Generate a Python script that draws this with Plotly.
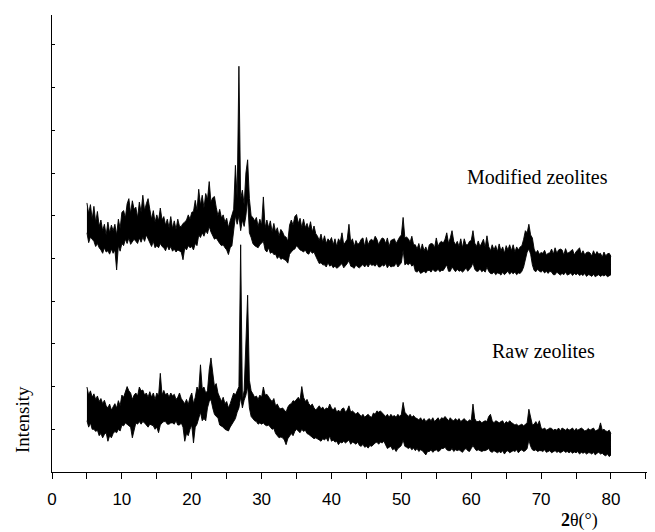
import plotly.graph_objects as go

# 2-theta sampling (degrees) from 5 to 80, step 0.25
two_theta = [5 + 0.25 * i for i in range(301)]

# The noisy traces are drawn as the band between the top and bottom edges
# of the recorded signal, read from the picture (intensity, a.u.)
modified_top = [
    630, 605, 626, 592,
    622, 585, 610, 575,
    590, 565, 580, 555,
    585, 560, 578, 565,
    580, 555, 592, 570,
    608, 612, 595, 628,
    640, 605, 635, 615,
    620, 595, 632, 608,
    648, 612, 628, 640,
    615, 592, 612, 585,
    602, 588, 618, 590,
    598, 578, 592, 572,
    598, 570, 588, 568,
    592, 575, 575, 582,
    585, 590, 602, 592,
    608, 610, 636, 612,
    662, 625, 648, 618,
    652, 638, 680, 632,
    642, 645, 620, 600,
    615, 595, 602, 585,
    594, 572, 588, 600,
    615, 718, 640, 950,
    640, 660, 625, 700,
    731, 640, 600, 596,
    588, 596, 575, 592,
    578, 644, 572, 590,
    572, 588, 562, 582,
    562, 572, 552, 568,
    562, 552, 550, 540,
    578, 590, 578, 598,
    603, 582, 594, 572,
    592, 572, 582, 568,
    586, 562, 576, 558,
    552, 542, 557, 538,
    553, 535, 546, 540,
    549, 532, 546, 528,
    546, 538, 560, 532,
    540, 545, 580, 538,
    546, 528, 542, 533,
    536, 545, 548, 528,
    549, 532, 542, 545,
    540, 552, 545, 532,
    542, 548, 546, 535,
    548, 528, 542, 545,
    546, 535, 544, 550,
    555, 596, 548, 550,
    546, 538, 552, 532,
    532, 522, 535, 518,
    534, 518, 527, 515,
    532, 535, 534, 525,
    548, 528, 537, 540,
    536, 545, 560, 535,
    548, 565, 540, 532,
    540, 528, 546, 525,
    546, 532, 532, 540,
    542, 565, 536, 528,
    541, 528, 536, 545,
    526, 553, 528, 518,
    532, 520, 530, 516,
    534, 518, 527, 512,
    530, 520, 532, 518,
    532, 515, 527, 520,
    527, 530, 545, 565,
    560, 580, 555, 548,
    522, 512, 519, 510,
    514, 512, 519, 508,
    512, 513, 522, 510,
    525, 512, 520, 522,
    520, 508, 523, 512,
    514, 518, 521, 508,
    516, 520, 525, 510,
    518, 508, 514, 515,
    513, 506, 518, 508,
    516, 510, 512, 503,
    515, 506, 511, 512,
    505,
]

modified_bottom = [
    560, 537, 550, 545,
    540, 528, 535, 525,
    520, 512, 525, 515,
    518, 510, 522, 512,
    520, 473, 530, 517,
    535, 530, 545, 535,
    548, 533, 540, 545,
    540, 535, 548, 538,
    550, 540, 555, 545,
    538, 528, 540, 525,
    530, 525, 535, 528,
    525, 518, 530, 520,
    528, 517, 522, 515,
    520, 518, 515, 497,
    525, 520, 530, 525,
    528, 520, 535, 530,
    555, 549, 560, 552,
    565, 558, 575, 562,
    552, 545, 548, 540,
    535, 530, 532, 525,
    520, 509, 525, 530,
    560, 600, 580, 600,
    565, 590, 575, 600,
    640, 560, 549, 535,
    530, 528, 525, 532,
    535, 540, 520, 515,
    525, 512, 515, 509,
    510, 500, 505, 498,
    500, 498, 495, 489,
    510, 515, 520, 522,
    530, 525, 520, 518,
    515, 520, 512, 510,
    518, 512, 515, 505,
    495, 488, 490, 485,
    485, 480, 490, 482,
    485, 478, 482, 477,
    480, 485, 488, 478,
    482, 488, 495, 482,
    480, 477, 485, 480,
    478, 482, 486, 480,
    486, 480, 488, 484,
    485, 482, 488, 480,
    480, 485, 482, 488,
    478, 485, 480, 482,
    482, 490, 480, 485,
    490, 520, 485, 488,
    485, 490, 482, 486,
    470, 468, 472, 465,
    468, 470, 466, 472,
    472, 468, 475, 470,
    470, 475, 469, 472,
    472, 478, 485, 470,
    470, 480, 475, 469,
    475, 470, 472, 468,
    472, 478, 470, 475,
    480, 490, 475, 470,
    470, 476, 469, 472,
    468, 480, 470, 465,
    464, 468, 462, 466,
    465, 461, 468, 462,
    466, 470, 463, 468,
    464, 468, 462, 466,
    465, 470, 480, 500,
    515, 522, 510, 485,
    472, 469, 475, 470,
    468, 472, 466, 470,
    465, 470, 468, 462,
    462, 468, 465, 461,
    465, 462, 468, 461,
    463, 466, 460, 465,
    462, 465, 460, 463,
    460, 465, 458, 462,
    461, 458, 463, 457,
    460, 462, 458, 461,
    459, 462, 457, 460,
    462,
]

raw_top = [
    199, 180, 190, 175,
    183, 170, 178, 165,
    172, 160, 168, 155,
    150, 159, 145, 152,
    160, 150, 167, 155,
    180, 175, 190, 200,
    190, 185, 170, 180,
    185, 178, 199, 190,
    192, 180, 185, 175,
    188, 175, 185, 170,
    185, 178, 231, 180,
    191, 180, 185, 175,
    185, 178, 182, 170,
    175, 185, 172, 165,
    160, 170, 158, 175,
    185, 160, 175, 199,
    190, 251, 195, 199,
    185, 190, 239, 267,
    230, 200, 207, 185,
    175, 165, 175, 160,
    165, 150, 160, 175,
    185, 180, 191, 200,
    532, 168, 191, 310,
    414, 215, 190, 183,
    175, 178, 170, 180,
    175, 199, 180, 182,
    175, 170, 165, 172,
    155, 159, 150, 148,
    150, 145, 140, 152,
    158, 160, 167, 165,
    170, 175, 168, 200,
    175, 165, 170, 160,
    155, 159, 150, 145,
    150, 155, 148, 152,
    145, 150, 148, 159,
    150, 145, 151, 140,
    145, 140, 148, 150,
    140, 145, 155, 140,
    143, 138, 135, 140,
    135, 130, 135, 128,
    132, 135, 130, 128,
    138, 135, 143, 140,
    143, 138, 135, 130,
    135, 128, 135, 130,
    132, 128, 135, 130,
    135, 163, 140, 135,
    130, 135, 128, 132,
    127, 125, 122, 127,
    120, 125, 118, 122,
    125, 120, 127, 118,
    122, 127, 120, 127,
    125, 130, 125, 120,
    127, 122, 120, 125,
    120, 125, 118, 122,
    125, 120, 118, 122,
    120, 159, 125, 118,
    118, 120, 115, 118,
    120, 118, 130, 135,
    120, 115, 120, 118,
    115, 118, 120, 112,
    118, 115, 120, 116,
    112, 110, 112, 108,
    110, 112, 108, 112,
    115, 147, 125, 110,
    112, 118, 110, 120,
    103, 100, 103, 98,
    100, 103, 102, 98,
    100, 98, 103, 96,
    103, 100, 98, 102,
    98, 100, 103, 96,
    102, 98, 100, 103,
    100, 96, 98, 102,
    98, 100, 103, 96,
    98, 100, 115, 98,
    100, 96, 95, 98,
    90,
]

raw_bottom = [
    120, 105, 115, 100,
    100, 95, 98, 85,
    90, 80, 88, 92,
    72, 85, 80, 90,
    95, 92, 100, 96,
    110, 108, 115, 112,
    110, 105, 80, 100,
    115, 112, 118, 112,
    118, 115, 110, 105,
    112, 110, 108, 100,
    105, 92, 110, 115,
    118, 118, 112, 112,
    115, 115, 112, 120,
    110, 110, 115, 105,
    72, 90, 85, 100,
    110, 68, 105, 112,
    125, 140, 120, 125,
    120, 150, 165, 170,
    150, 135, 130, 127,
    110, 108, 105, 100,
    98, 96, 105, 112,
    120, 125, 140, 150,
    175, 150, 168, 180,
    200, 150, 130, 125,
    120, 118, 112, 115,
    112, 115, 110, 108,
    110, 105, 100, 102,
    90, 85, 80, 82,
    80, 75, 64, 78,
    85, 90, 85, 95,
    100, 95, 92, 100,
    95, 98, 90, 88,
    85, 80, 78, 80,
    78, 75, 72, 78,
    75, 80, 72, 85,
    72, 75, 70, 72,
    64, 70, 68, 72,
    68, 72, 75, 65,
    70, 68, 65, 70,
    62, 60, 65, 58,
    60, 56, 62, 60,
    65, 68, 70, 65,
    70, 68, 72, 62,
    55, 58, 60, 52,
    55, 48, 55, 58,
    62, 75, 60, 58,
    55, 58, 52, 56,
    50, 55, 48, 52,
    50, 45, 40, 48,
    48, 52, 46, 50,
    52, 48, 50, 55,
    55, 58, 52, 50,
    50, 55, 48, 52,
    50, 52, 48, 46,
    52, 55, 50, 48,
    55, 62, 55, 50,
    52, 50, 48, 50,
    50, 52, 55, 48,
    46, 50, 48, 45,
    48, 45, 50, 42,
    48, 50, 45, 48,
    50, 48, 52, 45,
    50, 52, 48, 50,
    55, 75, 60, 52,
    50, 52, 48, 50,
    50, 48, 52, 46,
    48, 50, 45, 48,
    50, 46, 48, 45,
    48, 50, 46, 48,
    45, 48, 44, 47,
    45, 48, 42, 46,
    44, 46, 42, 45,
    45, 42, 46, 40,
    44, 46, 42, 44,
    40, 38, 42, 36,
    40,
]

x_tick_vals = [0, 10, 20, 30, 40, 50, 60, 70, 80]
x_tick_text = ["0", "10", "20", "30", "40", "50", "60", "70", "80"]

series = [
    ("Modified zeolites", modified_bottom, modified_top),
    ("Raw zeolites", raw_bottom, raw_top),
]

fig = go.Figure()
for name, lo, hi in series:
    n = min(len(two_theta), len(lo), len(hi))
    fig.add_trace(go.Scatter(x=two_theta[:n], y=lo[:n], mode="lines", name=name,
                             line=dict(color="black", width=0.9), showlegend=False,
                             hoverinfo="skip"))
    fig.add_trace(go.Scatter(x=two_theta[:n], y=hi[:n], mode="lines", name=name,
                             line=dict(color="black", width=0.9), fill="tonexty",
                             fillcolor="black", showlegend=False))

serif = "Liberation Serif, Times New Roman, serif"
fig.update_layout(
    width=655, height=532,
    margin=dict(l=44, r=8, t=7, b=68),
    plot_bgcolor="white", paper_bgcolor="white",
    xaxis=dict(range=[0, 86.3], showline=True, linecolor="black", linewidth=1.3,
               ticks="outside", ticklen=6, tickwidth=1.3, tickcolor="black",
               tickvals=x_tick_vals, ticktext=x_tick_text, ticklabelstandoff=5,
               minor=dict(dtick=5, tick0=0, ticks="outside", ticklen=6,
                          tickwidth=1.3, tickcolor="black", showgrid=False),
               showgrid=False, zeroline=False,
               tickfont=dict(family="Liberation Sans, Arial, sans-serif", size=17, color="black")),
    yaxis=dict(range=[0, 1070], showline=True, linecolor="black", linewidth=1.3,
               ticks="inside", ticklen=3, tickwidth=1, tickcolor="black", dtick=100,
               showticklabels=False, showgrid=False, zeroline=False),
    annotations=[
        dict(x=69.55, y=691, xref="x", yref="y", text="Modified zeolites", showarrow=False,
             xanchor="center", yanchor="middle",
             font=dict(family=serif, size=20, color="black")),
        dict(x=70.4, y=283, xref="x", yref="y", text="Raw zeolites", showarrow=False,
             xanchor="center", yanchor="middle",
             font=dict(family=serif, size=20, color="black")),
        dict(x=-0.048, y=0.114, xref="paper", yref="paper", text="Intensity", showarrow=False,
             xanchor="center", yanchor="middle", textangle=-90,
             font=dict(family=serif, size=19, color="black")),
        dict(x=0.8756, y=-0.107, xref="paper", yref="paper", text="<b>2</b>θ(°)", showarrow=False,
             xanchor="center", yanchor="middle",
             font=dict(family=serif, size=18, color="black")),
    ],
)

fig.write_html("out.html")
